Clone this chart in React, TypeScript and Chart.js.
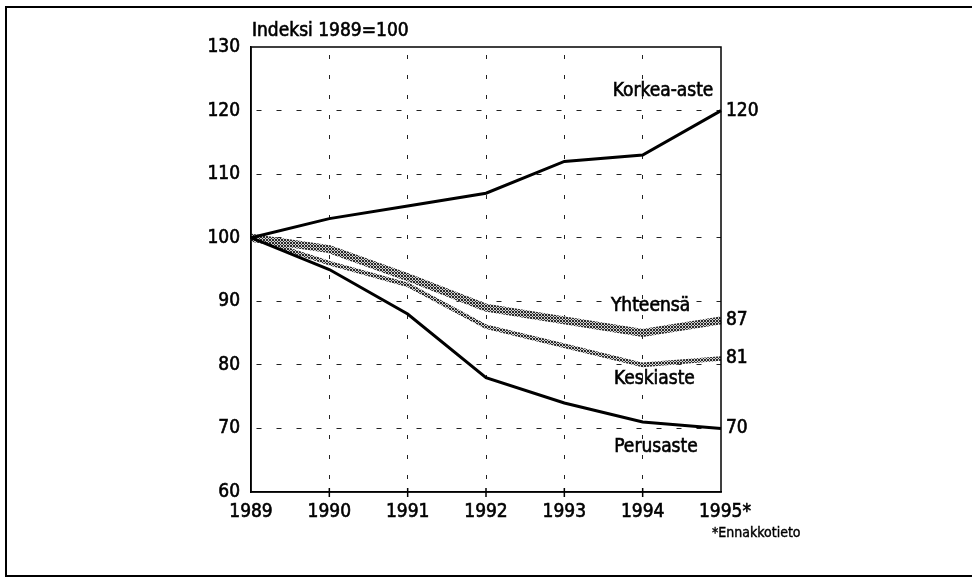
import React, { useEffect, useRef } from "react";
import { Chart, registerables } from "chart.js";

Chart.register(...registerables);

const years = ["1989", "1990", "1991", "1992", "1993", "1994", "1995*"];
const korkeaAste = [100, 103, 105, 107, 112, 113, 120];
const yhteensa = [100, 98.2, 93.8, 89, 87, 85, 87];
const keskiaste = [100, 96, 92.6, 86, 83, 80, 81];
const perusaste = [100, 95, 88, 78, 74, 71, 70];
const seriesNames = ["Korkea-aste", "Yhteensä", "Keskiaste", "Perusaste"];
const yTicks = [60, 70, 80, 90, 100, 110, 120, 130];
const unitLabel = "Indeksi 1989=100";
const footnote = "*Ennakkotieto";

const FONT = "'DejaVu Sans Condensed', 'DejaVu Sans', sans-serif";
const F = (size: number) => `condensed ${size}px ${FONT}`;

function makePattern(): CanvasPattern | string {
  const c = document.createElement("canvas");
  c.width = 3;
  c.height = 3;
  const g = c.getContext("2d");
  if (!g) return "#888";
  g.fillStyle = "#d0d0d0";
  g.fillRect(0, 0, 3, 3);
  g.fillStyle = "#2a2a2a";
  [[0, 0], [1, 1], [2, 2], [2, 0], [0, 2]].forEach(([x, y]) => g.fillRect(x, y, 1, 1));
  const p = g.createPattern(c, "repeat");
  return p || "#888";
}

export default function App() {
  const ref = useRef<HTMLCanvasElement | null>(null);

  useEffect(() => {
    const canvas = ref.current;
    if (!canvas) return;
    const pattern = makePattern();

    const labelPlugin = {
      id: "annotations",
      afterDraw(chart: any) {
        const { ctx, chartArea, scales } = chart;
        const xs = scales.x;
        const ys = scales.y;
        const text = (s: string, x: number, y: number) => {
          ctx.fillText(s, x, y);
          ctx.strokeText(s, x, y);
        };
        ctx.save();
        ctx.setLineDash([]);
        // outer frame
        ctx.strokeStyle = "#000";
        ctx.lineWidth = 2;
        ctx.beginPath();
        ctx.moveTo(980, 7);
        ctx.lineTo(6, 7);
        ctx.lineTo(6, 576);
        ctx.lineTo(980, 576);
        ctx.stroke();
        // plot borders
        ctx.lineWidth = 1.5;
        ctx.strokeRect(chartArea.left, chartArea.top, chartArea.right - chartArea.left, chartArea.bottom - chartArea.top);
        // x ticks crossing the axis
        ctx.beginPath();
        for (let i = 1; i < years.length - 1; i++) {
          const px = xs.getPixelForValue(i);
          ctx.moveTo(px, chartArea.bottom - 4);
          ctx.lineTo(px, chartArea.bottom + 5);
        }
        ctx.stroke();

        ctx.fillStyle = "#000";
        ctx.lineWidth = 0.6;
        ctx.textBaseline = "middle";
        // y tick labels
        ctx.font = F(19);
        ctx.textAlign = "right";
        yTicks.forEach((v) => text(String(v), chartArea.left - 11, ys.getPixelForValue(v)));
        // x tick labels
        ctx.textAlign = "center";
        ctx.textBaseline = "middle";
        years.forEach((y, i) => text(y, xs.getPixelForValue(i) + (i === years.length - 1 ? 4 : 0), chartArea.bottom + 20));
        // unit label
        ctx.textAlign = "left";
        text(unitLabel, 252, 31);
        // end value labels
        const lastIdx = years.length - 1;
        const ends = [korkeaAste, yhteensa, keskiaste, perusaste];
        ends.forEach((arr) => {
          const v = arr[lastIdx];
          text(String(Math.round(v)), chartArea.right + 5, ys.getPixelForValue(v));
        });
        // series names inside plot
        const namePos = [
          [5.26, 123.1],
          [5.1, 89.3],
          [5.15, 77.8],
          [5.17, 67.1],
        ];
        ctx.textAlign = "center";
        ctx.font = F(19);
        seriesNames.forEach((n, i) => {
          const [ix, v] = namePos[i];
          const px = xs.getPixelForValue(0) + (xs.getPixelForValue(1) - xs.getPixelForValue(0)) * ix;
          text(n, px, ys.getPixelForValue(v));
        });
        // footnote
        ctx.font = F(14);
        ctx.lineWidth = 0.4;
        ctx.textAlign = "left";
        text(footnote, 712, 533);
        ctx.restore();
      },
    };

    const chart = new Chart(canvas, {
      type: "line",
      data: {
        labels: years,
        datasets: [
          { label: seriesNames[1], data: yhteensa, borderColor: pattern as any, borderWidth: 8, order: 3 },
          { label: seriesNames[2], data: keskiaste, borderColor: pattern as any, borderWidth: 4.5, order: 2 },
          { label: seriesNames[0], data: korkeaAste, borderColor: "#000", borderWidth: 3, order: 1 },
          { label: seriesNames[3], data: perusaste, borderColor: "#000", borderWidth: 3, order: 0 },
        ],
      },
      options: {
        animation: false,
        responsive: false,
        maintainAspectRatio: false,
        events: [],
        elements: { point: { radius: 0 }, line: { tension: 0, borderCapStyle: "butt", borderJoinStyle: "miter" } },
        layout: { padding: { left: 0, right: 251, top: 47, bottom: 0 } },
        plugins: { legend: { display: false }, tooltip: { enabled: false }, title: { display: false } },
        scales: {
          x: {
            type: "category",
            offset: false,
            border: { display: true, color: "#000", width: 1.5, dash: [4, 16], dashOffset: -8 },
            grid: {
              color: (c: any) => (c.index === 0 || c.index === years.length - 1 ? "rgba(0,0,0,0)" : "#222"),
              lineWidth: 1,
              drawTicks: false,
            },
            ticks: { display: false },
            afterFit: (s: any) => {
              s.height = 578 - 492;
            },
          },
          y: {
            type: "linear",
            min: 60,
            max: 130,
            border: { display: true, color: "#000", width: 1.5, dash: [5, 15], dashOffset: -5 },
            grid: {
              color: (c: any) => (c.tick && (c.tick.value === 60 || c.tick.value === 130) ? "rgba(0,0,0,0)" : "#222"),
              lineWidth: 1,
              drawTicks: false,
            },
            afterBuildTicks: (s: any) => {
              s.ticks = yTicks.map((v) => ({ value: v }));
            },
            ticks: { display: false },
            afterFit: (s: any) => {
              s.width = 251;
            },
          },
        },
      },
      plugins: [labelPlugin],
    });
    return () => chart.destroy();
  }, []);

  return (
    <div style={{ position: "fixed", left: 0, top: 0, width: 972, height: 578, background: "#fff" }}>
      <canvas ref={ref} width={972} height={578} style={{ display: "block", width: 972, height: 578 }} />
    </div>
  );
}
